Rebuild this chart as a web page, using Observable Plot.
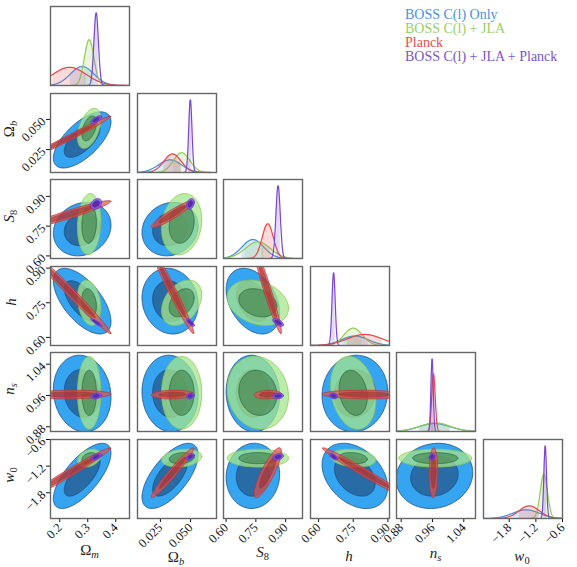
<!DOCTYPE html>
<html><head><meta charset="utf-8">
<script src="https://cdn.jsdelivr.net/npm/d3@7"></script>
<script src="https://cdn.jsdelivr.net/npm/@observablehq/plot@0.6"></script>
<style>
body{margin:0;background:#fff;}
#chart{position:relative;width:577px;height:567px;overflow:hidden;background:#fff;}
#chart svg{position:absolute;}
.lab{position:absolute;font-family:"Liberation Serif",serif;font-size:15px;white-space:nowrap;color:#222;line-height:1;}
.lab sub{font-size:0.7em;vertical-align:-0.25em;}
.leg{position:absolute;left:405px;font-family:"Liberation Serif",serif;font-size:14px;white-space:nowrap;line-height:1;}
</style></head><body><div id="chart"></div>
<script>
// ---- parameters / axes ----
const params = ["Ωm", "Ωb", "S8", "h", "ns", "w0"];
const paramLabelsHTML = ["Ω<sub><i>m</i></sub>", "Ω<sub><i>b</i></sub>", "<i>S</i><sub>8</sub>", "<i>h</i>", "<i>n</i><sub><i>s</i></sub>", "<i>w</i><sub>0</sub>"];
const domains = [[0.167, 0.449], [0.006, 0.0715], [0.587, 0.985], [0.565, 0.907], [0.868, 1.07], [-2.38, -0.6]];
const tickValues = [[0.2, 0.3, 0.4], [0.025, 0.05], [0.6, 0.75, 0.9], [0.6, 0.75, 0.9], [0.88, 0.96, 1.04], [-1.8, -1.2, -0.6]];
const tickLabels = [["0.2", "0.3", "0.4"], ["0.025", "0.050"], ["0.60", "0.75", "0.90"], ["0.60", "0.75", "0.90"], ["0.88", "0.96", "1.04"], ["−1.8", "−1.2", "−0.6"]];

// ---- datasets ----
const seriesNames = ["BOSS C(l) Only", "BOSS C(l) + JLA", "Planck", "BOSS C(l) + JLA + Planck"];
// pair order: (Ωb,Ωm) (S8,Ωm) (S8,Ωb) (h,Ωm) (h,Ωb) (h,S8) (ns,Ωm) (ns,Ωb) (ns,S8) (ns,h) (w0,Ωm) (w0,Ωb) (w0,S8) (w0,h) (w0,ns)
const bossMean  = [0.28, 0.033, 0.735, 0.757, 0.965, -1.42];
const bossSigma = [0.042, 0.0095, 0.055, 0.058, 0.04, 0.3];
const bossPeak  = [0.24, 0.16, 0.24, 0.12, 0.1, 0.11];
const bossCorr  = [0.65, 0.15, 0.12, -0.62, -0.1, -0.35, -0.1, -0.05, -0.05, 0.05, 0.7, 0.65, 0.05, -0.35, 0.1];

const jlaMean  = [0.305, 0.0426, 0.76, 0.75, 0.967, -1.02];
const jlaSigma = [0.017, 0.0068, 0.063, 0.04, 0.038, 0.082];
const jlaPeak  = [0.58, 0.25, 0.21, 0.22, 0.11, 0.56];
const jlaCorr  = [0.45, 0.1, 0.15, -0.25, 0.35, -0.25, 0.0, 0.0, -0.1, -0.2, 0.3, 0.2, 0.0, -0.2, 0.0];

const planckMean  = [0.235, 0.035, 0.81, 0.80, 0.9625, -1.35];
const planckSigma = [0.06, 0.0072, 0.028, 0.075, 0.0045, 0.23];
const planckPeak  = [0.23, 0.235, 0.44, 0.14, 0.73, 0.16];
const planckCorr  = [0.99, 0.95, 0.93, -0.99, -0.98, -0.96, 0.1, 0.1, 0.1, -0.1, 0.985, 0.97, 0.85, -0.985, 0.05];

const allMean  = [0.33, 0.0498, 0.862, 0.665, 0.959, -0.99];
const allSigma = [0.008, 0.00135, 0.011, 0.007, 0.003, 0.03];
const allPeak  = [0.92, 0.92, 0.92, 0.92, 0.92, 0.92];
const allCorr  = [0.7, 0.3, 0.3, -0.9, -0.8, -0.6, 0.2, 0.2, 0.1, -0.2, 0.6, 0.5, 0.3, -0.6, 0.2];

// ---- styles ----
const styles = [
  {line: "#3d8fe0", legend: "#4a8fe3", outer: "#1f9bf0", outerOp: 0.9, inner: "#265d92", innerOp: 0.8, edge: "#1b4d80"},
  {line: "#8fcc55", legend: "#96d160", outer: "#a6e68c", outerOp: 0.75, inner: "#3e7d4a", innerOp: 0.6, edge: "#8cc850", innerEdge: "#2f6a3a"},
  {line: "#e84545", legend: "#ea4c4c", outer: "#e05252", outerOp: 0.7, inner: "#8a2020", innerOp: 0.45, edge: "#c23434"},
  {line: "#7a45d2", legend: "#7a55c8", outer: "#8c5ce6", outerOp: 0.85, inner: "#3d1a8c", innerOp: 0.7, edge: "#6a30d6"}
];
const datasets = [
  {mean: bossMean, sigma: bossSigma, peak: bossPeak, corr: bossCorr},
  {mean: jlaMean, sigma: jlaSigma, peak: jlaPeak, corr: jlaCorr},
  {mean: planckMean, sigma: planckSigma, peak: planckPeak, corr: planckCorr},
  {mean: allMean, sigma: allSigma, peak: allPeak, corr: allCorr}
];

// ---- layout ----
const P = 79, pitch = 86.5, ox = 50, oy = 6;
const xTitleTop = [552, 559, 554, 556, 555, 558];
const chart = document.getElementById("chart");
const pairIndex = (r, c) => r * (r - 1) / 2 + c;
const fontStyle = {fontFamily: "Liberation Serif, serif", fontSize: "12.5px", background: "transparent", overflow: "visible", color: "#111"};

function tickFmt(k) {
  return d => {
    const i = tickValues[k].findIndex(v => Math.abs(v - d) < 1e-9);
    return i >= 0 ? tickLabels[k][i] : "";
  };
}

function ellipse(mx, my, sx, sy, rho, R) {
  const q = Math.sqrt(1 - rho * rho);
  return d3.range(0, 180).map(i => {
    const t = i / 180 * 2 * Math.PI;
    return {x: mx + R * sx * Math.cos(t), y: my + R * sy * (rho * Math.cos(t) + q * Math.sin(t))};
  });
}

for (let r = 0; r < 6; r++) {
  for (let c = 0; c <= r; c++) {
    const ml = (c === 0 && r > 0) ? 45 : 0;
    const mb = (r === 5) ? 45 : 0;
    const marks = [];
    const [lo, hi] = domains[c];
    if (r === c) {
      datasets.forEach((d, k) => {
        const m = d.mean[c], s = d.sigma[c], a = d.peak[c];
        let xs = d3.range(0, 301).map(i => lo + (hi - lo) * i / 300)
          .concat(d3.range(-4, 4.001, 0.05).map(z => m + z * s));
        xs = xs.filter(x => x >= lo && x <= hi).sort((u, v) => u - v);
        const pts = xs.map(x => ({x, y: a * Math.exp(-0.5 * ((x - m) / s) ** 2)}));
        const shade = pts.filter(p => Math.abs(p.x - m) <= s * 1.0001);
        marks.push(Plot.areaY(shade, {x: "x", y: "y", fill: styles[k].line, fillOpacity: 0.2, clip: true}));
        marks.push(Plot.lineY(pts, {x: "x", y: "y", stroke: styles[k].line, strokeWidth: 1.2, clip: true}));
      });
    } else {
      const pi = pairIndex(r, c);
      datasets.forEach((d, k) => {
        const st = styles[k];
        const rho = d.corr[pi];
        const outer = ellipse(d.mean[c], d.mean[r], d.sigma[c], d.sigma[r], rho, 2.45);
        const inner = ellipse(d.mean[c], d.mean[r], d.sigma[c], d.sigma[r], rho, 1.52);
        marks.push(Plot.line(outer, {x: "x", y: "y", curve: "linear-closed", fill: st.outer, fillOpacity: st.outerOp, stroke: st.edge, strokeWidth: 0.8, clip: true}));
        marks.push(Plot.line(inner, {x: "x", y: "y", curve: "linear-closed", fill: st.inner, fillOpacity: st.innerOp, stroke: st.innerEdge || st.edge, strokeWidth: 0.8, clip: true}));
      });
    }
    marks.push(Plot.frame({stroke: "#666666", strokeWidth: 1.4}));
    const svg = Plot.plot({
      width: P + ml, height: P + mb,
      marginLeft: ml, marginRight: 0, marginTop: 0, marginBottom: mb,
      style: fontStyle,
      x: r === 5
        ? {domain: domains[c], ticks: tickValues[c], tickFormat: tickFmt(c), tickRotate: -45, tickSize: 4, tickPadding: 3, label: null}
        : {domain: domains[c], axis: null},
      y: r === c
        ? {domain: [0, 1], axis: null}
        : (c === 0
          ? {domain: domains[r], ticks: tickValues[r], tickFormat: tickFmt(r), tickRotate: -45, tickSize: 4, tickPadding: 3, label: null}
          : {domain: domains[r], axis: null}),
      marks
    });
    svg.style.left = (ox + c * pitch - ml) + "px";
    svg.style.top = (oy + r * pitch) + "px";
    chart.appendChild(svg);
  }
}

// axis titles
params.forEach((p, k) => {
  const xl = document.createElement("div");
  xl.className = "lab";
  xl.innerHTML = paramLabelsHTML[k];
  xl.style.left = (ox + k * pitch + P / 2) + "px";
  xl.style.top = xTitleTop[k] + "px";
  xl.style.transform = "translate(-50%,-50%)";
  chart.appendChild(xl);
  if (k > 0) {
    const yl = document.createElement("div");
    yl.className = "lab";
    yl.innerHTML = paramLabelsHTML[k];
    yl.style.left = "11px";
    yl.style.top = (oy + k * pitch + P / 2 - 3) + "px";
    yl.style.transform = "translate(-50%,-50%) rotate(-90deg)";
    chart.appendChild(yl);
  }
});

// legend
seriesNames.forEach((n, k) => {
  const t = document.createElement("div");
  t.className = "leg";
  t.textContent = n;
  t.style.color = styles[k].legend;
  t.style.top = (8 + k * 14) + "px";
  chart.appendChild(t);
});
</script></body></html>
